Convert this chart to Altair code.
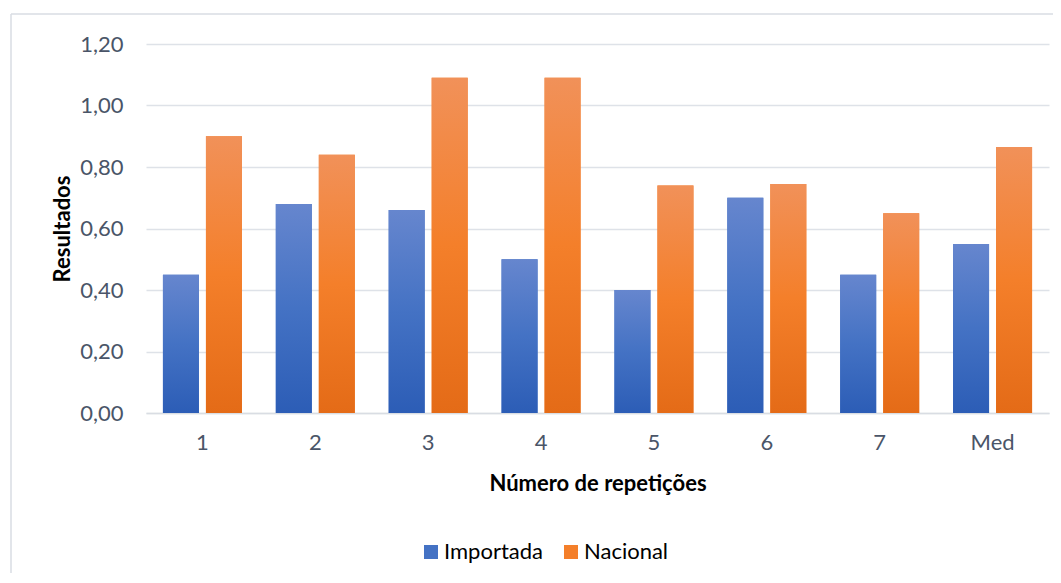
import altair as alt
import pandas as pd

categorias = ["1", "2", "3", "4", "5", "6", "7", "Med"]
importada = [0.45, 0.68, 0.66, 0.50, 0.40, 0.70, 0.45, 0.55]
nacional = [0.90, 0.84, 1.09, 1.09, 0.74, 0.745, 0.65, 0.865]
series = ["Importada", "Nacional"]
y_ticks = [0.0, 0.2, 0.4, 0.6, 0.8, 1.0, 1.2]

rows = []
for c, a, b in zip(categorias, importada, nacional):
    rows.append({"Rep": c, "Serie": "Importada", "Valor": a})
    rows.append({"Rep": c, "Serie": "Nacional", "Valor": b})
df = pd.DataFrame(rows)

FONT = "Lato"
FS = 22
grad_blue = {"gradient": "linear", "x1": 0, "y1": 0, "x2": 0, "y2": 1,
             "stops": [{"offset": 0, "color": "#6686CE"},
                       {"offset": 0.5, "color": "#4472C4"},
                       {"offset": 1, "color": "#2C5DB6"}]}
grad_orange = {"gradient": "linear", "x1": 0, "y1": 0, "x2": 0, "y2": 1,
               "stops": [{"offset": 0, "color": "#F19159"},
                         {"offset": 0.5, "color": "#F47F2A"},
                         {"offset": 1, "color": "#E46B17"}]}

x_enc = alt.X("Rep:N", sort=categorias,
              scale=alt.Scale(paddingInner=0.30, paddingOuter=0.15),
              axis=alt.Axis(title="Número de repetições", labelAngle=0, ticks=False,
                            labelPadding=19, labelFontSize=FS, labelColor="#4A5568",
                            labelFont=FONT, titleFont=FONT, titleFontSize=FS,
                            titleFontWeight="bold", titleColor="#000000",
                            titleY=70, titleBaseline="middle",
                            domainColor="#D9DDE3", domainWidth=1.5, grid=False))
xoff_enc = alt.XOffset("Serie:N", sort=series,
                       scale=alt.Scale(domain=series, paddingInner=0.163, paddingOuter=0))
y_enc = alt.Y("Valor:Q", scale=alt.Scale(domain=[0, 1.2], nice=False),
              axis=alt.Axis(title="Resultados", values=y_ticks, ticks=False, domain=False,
                            labelExpr="replace(format(datum.value, '.2f'), '.', ',')",
                            labelPadding=23, labelFontSize=FS, labelColor="#4A5568",
                            labelFont=FONT, titleFont=FONT, titleFontSize=FS,
                            titleFontWeight="bold", titleColor="#000000",
                            titleX=-84, titleY=184.5, titleAngle=270,
                            titleBaseline="middle", titleAlign="center",
                            gridColor="#DEE2E8", gridWidth=1.5))

base = alt.Chart(df).mark_bar().encode(
    x=x_enc, xOffset=xoff_enc, y=y_enc,
    color=alt.Color("Serie:N", sort=series,
                    scale=alt.Scale(domain=series, range=["#4472C4", "#F47F2A"]),
                    legend=alt.Legend(title=None, orient="none", direction="horizontal",
                                      legendX=274, legendY=497, symbolType="square",
                                      symbolSize=196, symbolStrokeWidth=0,
                                      labelFontSize=FS, labelFont=FONT,
                                      labelColor="#000000", labelOffset=2,
                                      columnPadding=17, padding=0)),
)

overlay = alt.Chart(df).mark_bar().encode(
    x=x_enc, xOffset=xoff_enc, y=y_enc,
    fill=alt.condition(alt.datum.Serie == "Importada", alt.value(grad_blue), alt.value(grad_orange)),
)

frame_top = alt.Chart(alt.Data(values=[{}])).mark_rule(
    stroke="#D9DDE3", strokeWidth=1.5
).encode(x=alt.value(-135), x2=alt.value(910), y=alt.value(-30))

frame_left = alt.Chart(alt.Data(values=[{}])).mark_rule(
    stroke="#D9DDE3", strokeWidth=1.5
).encode(x=alt.value(-135), y=alt.value(-30), y2=alt.value(560))

chart = alt.layer(frame_top, frame_left, base, overlay).properties(
    width=903, height=369,
    autosize=alt.AutoSizeParams(type="none"),
    padding={"left": 138, "top": 36, "right": 4, "bottom": 160},
).configure_view(stroke=None)

chart.save("out.html", embed_options={"renderer": "svg", "actions": False})
